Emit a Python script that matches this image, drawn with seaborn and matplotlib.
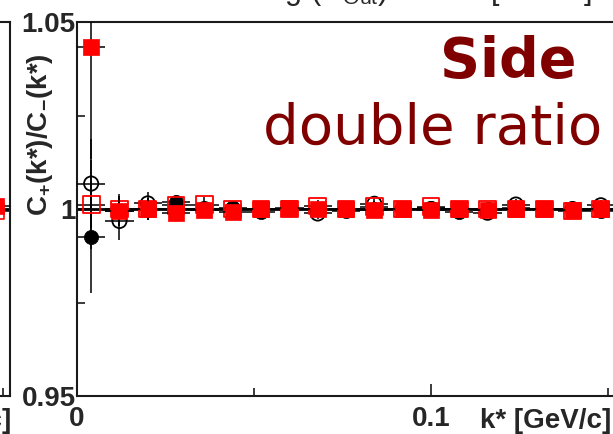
import matplotlib
matplotlib.use("Agg")
import matplotlib.pyplot as plt
import pandas as pd
import seaborn as sns
from matplotlib.ticker import FixedLocator

# k* bin centres [GeV/c] and half bin width
kstar = [0.004, 0.012, 0.020, 0.028, 0.036, 0.044, 0.052, 0.060, 0.068, 0.076,
         0.084, 0.092, 0.100, 0.108, 0.116, 0.124, 0.132, 0.140, 0.148]
half_bin = 0.004

# double ratio C+(k*)/C-(k*) for the four samples
closed_circle = [0.9925, 0.9995, 1.0000, 1.0018, 1.0000, 1.0004, 0.9992, 1.0000, 1.0000, 0.9995,
                 1.0000, 1.0000, 1.0003, 0.9993, 1.0000, 1.0003, 1.0000, 1.0000, 0.9995]
closed_circle_err = [0.015, 0.004, 0.003, 0.002, 0.002, 0.0015, 0.0015, 0.0015, 0.0015, 0.0015,
                     0.0015, 0.0015, 0.0015, 0.0015, 0.0015, 0.0015, 0.0015, 0.0015, 0.0015]

open_circle = [1.0068, 0.9968, 1.0015, 1.0000, 1.0000, 1.0000, 1.0000, 1.0000, 0.9988, 1.0000,
               1.0014, 1.0000, 1.0000, 1.0000, 0.9990, 1.0012, 1.0000, 1.0000, 1.0010]
open_circle_err = [0.012, 0.005, 0.003, 0.002, 0.002, 0.0015, 0.0015, 0.0015, 0.0015, 0.0015,
                   0.0015, 0.0015, 0.0015, 0.0015, 0.0015, 0.0015, 0.0015, 0.0015, 0.0015]

open_square = [1.0012, 1.0000, 1.0000, 1.0010, 1.0012, 1.0000, 1.0000, 1.0000, 1.0008, 1.0000,
               1.0006, 1.0000, 1.0006, 1.0000, 1.0000, 1.0000, 1.0000, 0.9995, 1.0000]
open_square_err = [0.012, 0.004, 0.003, 0.002, 0.002, 0.0015, 0.0015, 0.0015, 0.0015, 0.0015,
                   0.0015, 0.0015, 0.0015, 0.0015, 0.0015, 0.0015, 0.0015, 0.0015, 0.0015]

filled_square = [1.0433, 0.9995, 1.0000, 0.9988, 0.9996, 0.9993, 1.0000, 1.0004, 1.0000, 1.0000,
                 0.9998, 1.0000, 0.9998, 1.0000, 0.9996, 1.0000, 1.0000, 0.9998, 1.0000]
filled_square_err = [0.03, 0.004, 0.003, 0.002, 0.002, 0.0015, 0.0015, 0.0015, 0.0015, 0.0015,
                     0.0015, 0.0015, 0.0015, 0.0015, 0.0015, 0.0015, 0.0015, 0.0015, 0.0015]

# last bin of the neighbouring (Out) panel
prev_kstar = [0.148]
prev_filled = [1.0008]
prev_open = [0.9995]

ytick_major = [0.95, 1.0, 1.05]
ytick_labels = ["0.95", "1", "1.05"]
ytick_minor = [0.975, 1.025]
xtick_major = [0.0, 0.1]
xtick_labels = ["0", "0.1"]
xtick_minor = [0.05, 0.15]

sns.set_theme(style="ticks")
plt.rcParams["font.family"] = ["Liberation Sans", "DejaVu Sans"]
plt.rcParams["mathtext.fontset"] = "custom"
plt.rcParams["mathtext.rm"] = "Liberation Sans"
plt.rcParams["mathtext.bf"] = "Liberation Sans:bold"

W, H = 613, 434
fig = plt.figure(figsize=(W / 100, H / 100), dpi=100)
fig.patch.set_facecolor("white")

top_px, bot_px = 22, 396
ax_h = (bot_px - top_px) / H
ax_b = 1 - bot_px / H
ax = fig.add_axes([77 / W, ax_b, (615 - 77) / W, ax_h])
ax_prev = fig.add_axes([(10 - 538) / W, ax_b, 538 / W, ax_h])

dark_red = "#800000"
frame_col = "#1a1a1a"


def style_frame(a):
    a.set_facecolor("white")
    for sp in a.spines.values():
        sp.set_visible(True)
        sp.set_color(frame_col)
        sp.set_linewidth(1.5)
    a.set_xlim(0, 0.152)
    a.set_ylim(0.95, 1.05)
    a.xaxis.set_major_locator(FixedLocator(xtick_major))
    a.xaxis.set_minor_locator(FixedLocator(xtick_minor))
    a.yaxis.set_major_locator(FixedLocator(ytick_major))
    a.yaxis.set_minor_locator(FixedLocator(ytick_minor))
    a.tick_params(which="both", direction="in", color=frame_col, width=1.2,
                  top=False, right=False)
    a.tick_params(which="major", length=9)
    a.tick_params(which="minor", length=6)
    a.set_xlabel("")
    a.set_ylabel("")


def draw_series(a, x, y, yerr, marker, size, face, edge, lw, z):
    if yerr is not None:
        a.errorbar(x, y, xerr=half_bin, yerr=yerr, fmt="none", ecolor="black",
                   elinewidth=1.1, capsize=0, zorder=z - 0.5)
    sns.scatterplot(x=x, y=y, ax=a, marker=marker, s=size, facecolor=face,
                    edgecolor=edge, linewidth=lw, zorder=z, legend=False)


# neighbouring panel edge
style_frame(ax_prev)
ax_prev.axhline(1.0, color="black", lw=2.0, zorder=1)
draw_series(ax_prev, prev_kstar, prev_open, [0.0015], "s", 145, "none", "red", 1.2, 3)
draw_series(ax_prev, prev_kstar, prev_filled, [0.0015], "s", 145, "red", "red", 0.5, 4)
ax_prev.set_xticklabels([])
ax_prev.set_yticklabels([])

# main panel
style_frame(ax)
ax.axhline(1.0, color="black", lw=2.0, zorder=1)
draw_series(ax, kstar, closed_circle, closed_circle_err, "o", 105, "black", "black", 0.5, 3)
draw_series(ax, kstar, open_circle, open_circle_err, "o", 105, "none", "black", 1.3, 4)
draw_series(ax, kstar, open_square, open_square_err, "s", 145, "none", "red", 1.3, 5)
draw_series(ax, kstar, filled_square, filled_square_err, "s", 145, "red", "red", 0.5, 6)

ax.set_yticks(ytick_major, ytick_labels, fontsize=20, fontweight="bold")
ax.set_xticks(xtick_major, xtick_labels, fontsize=20, fontweight="bold")
ax.tick_params(axis="y", which="major", pad=1)
ax.tick_params(axis="x", which="major", pad=7)

ax.text((576 - 77) / 538, (396 - 77) / 374, "Side", transform=ax.transAxes, fontsize=40,
        fontweight="bold", color=dark_red, family="DejaVu Sans", ha="right", va="baseline")
ax.text((263 - 77) / 538, (396 - 144) / 374, "double ratio", transform=ax.transAxes,
        fontsize=40.5, color=dark_red, family="DejaVu Sans", ha="left", va="baseline")

# axis titles
fig.text(40 / W, 1 - 135 / H, r"C$_{\mathbf{+}}$(k*)/C$_{\mathbf{-}}$(k*)", rotation=90,
         fontsize=20, fontweight="bold", ha="center", va="center")
fig.text(480 / W, 1 - 421 / H, "k* [GeV/c]", fontsize=20, fontweight="bold",
         ha="left", va="center")
fig.text(11 / W, 1 - 421 / H, "k* [GeV/c]", fontsize=20, fontweight="bold",
         ha="right", va="center")

# header line running above the panels
fig.text(592 / W, 1 + 1 / H, r"Smearing (R$_{\rm Out}$) = 0.25 [GeV/c]", fontsize=22,
         ha="right", va="baseline")

fig.savefig("out.png", dpi=100)
